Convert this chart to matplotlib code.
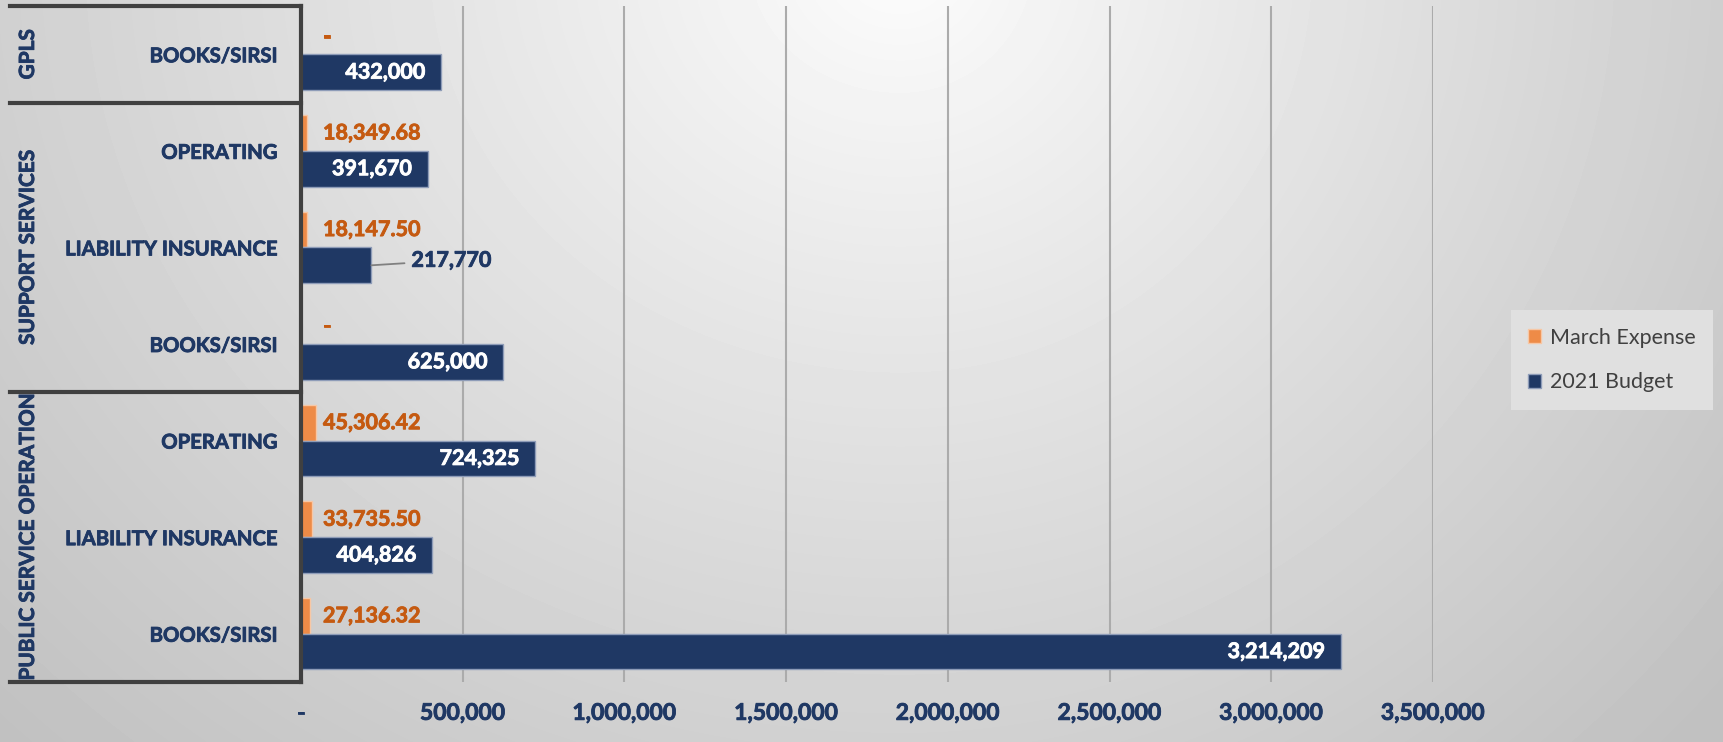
import numpy as np
import matplotlib.pyplot as plt
import matplotlib.patheffects as pe
from matplotlib.patches import Patch
from matplotlib.ticker import FuncFormatter

plt.rcParams['font.family'] = ['Lato', 'DejaVu Sans']

# data
groups = ['GPLS', 'SUPPORT SERVICES', 'PUBLIC SERVICE OPERATION']
group_sizes = [1, 3, 3]
items = ['BOOKS/SIRSI',
         'OPERATING', 'LIABILITY INSURANCE', 'BOOKS/SIRSI',
         'OPERATING', 'LIABILITY INSURANCE', 'BOOKS/SIRSI']
march_expense = [0, 18349.68, 18147.50, 0, 45306.42, 33735.50, 27136.32]
budget_2021 = [432000, 391670, 217770, 625000, 724325, 404826, 3214209]
x_ticks = [0, 500000, 1000000, 1500000, 2000000, 2500000, 3000000, 3500000]

navy = '#1F3864'
orange = '#EE8B47'
orange_txt = '#C55A11'
line_col = '#404040'


def thick(color):
    # a thin stroke makes Lato Bold look closer to the heavier original
    return [pe.withStroke(linewidth=0.6, foreground=color)]


W, H = 1723, 742
fig = plt.figure(figsize=(W / 100, H / 100), dpi=100)

# background: soft radial grey gradient, lightest near the top middle
bg = fig.add_axes([0, 0, 1, 1])
bg.axis('off')
xx, yy = np.meshgrid(np.arange(W), np.arange(H))
dx = np.where(xx > 900, (xx - 900) * 1.05, (900 - xx) * 0.92)
d = np.sqrt(dx ** 2 + ((yy + 40) * 1.05) ** 2)
val = 253 - 60 * np.clip(d / 1150, 0, 1) ** 0.9
bg.imshow(val, cmap='gray', vmin=0, vmax=255, aspect='auto',
          extent=[0, 1, 0, 1], origin='upper')
bg.set_xlim(0, 1)
bg.set_ylim(0, 1)

ax = fig.add_axes([301 / W, 1 - 682 / H, 1132 / W, 676 / H])
ax.set_facecolor('none')

y = np.arange(len(items))
h = 0.37
ax.barh(y - h / 2, march_expense, height=h, color=orange,
        edgecolor='#F7C7A5', linewidth=1, zorder=3)
ax.barh(y + h / 2, budget_2021, height=h, color=navy,
        edgecolor='#8E9CB8', linewidth=1, zorder=3)

ax.set_xlim(0, 3500000)
ax.set_ylim(len(items) - 0.5, -0.5)
ax.set_xticks(x_ticks)
ax.xaxis.set_major_formatter(
    FuncFormatter(lambda v, p: '-' if v == 0 else f'{v:,.0f}'))
ax.grid(axis='x', color='#ABABAB', lw=1.5, zorder=1)
ax.tick_params(axis='x', length=0, pad=15, labelsize=16.5, labelcolor=navy)
for lbl in ax.get_xticklabels():
    lbl.set_fontweight('bold')
    lbl.set_path_effects(thick(navy))

ax.set_yticks(y, items)
ax.tick_params(axis='y', length=0, pad=17, labelsize=14.6, labelcolor=navy)
for lbl in ax.get_yticklabels():
    lbl.set_fontweight('bold')
    lbl.set_path_effects(thick(navy))

for s in ax.spines.values():
    s.set_visible(False)

# data labels
for yi, v in zip(y, march_expense):
    txt = '-' if v == 0 else f'{v:,.2f}'
    ax.annotate(txt, xy=(0, yi - h / 2), xytext=(22, 0),
                textcoords='offset pixels', ha='left', va='center',
                fontsize=15.5, fontweight='bold', color=orange_txt, zorder=5,
                path_effects=thick(orange_txt))

for yi, v in zip(y, budget_2021):
    if v > 300000:
        ax.annotate(f'{v:,.0f}', xy=(v, yi + h / 2), xytext=(-16, 0),
                    textcoords='offset pixels', ha='right', va='center',
                    fontsize=15.5, fontweight='bold', color='white', zorder=5,
                    path_effects=thick('white'))
    else:
        ax.annotate(f'{v:,.0f}', xy=(v, yi + h / 2), xytext=(40, 5),
                    textcoords='offset pixels', ha='left', va='center',
                    fontsize=15.5, fontweight='bold', color=navy, zorder=5,
                    path_effects=thick(navy),
                    arrowprops=dict(arrowstyle='-', color='#808080', lw=1.3,
                                    shrinkA=3, shrinkB=0))

# category box with group labels
trans = ax.get_yaxis_transform()
x_left = (10 - 301) / 1132
bounds = np.concatenate([[0], np.cumsum(group_sizes)]) - 0.5
for b in bounds:
    ax.plot([x_left, 0], [b, b], transform=trans, color=line_col, lw=3,
            clip_on=False, solid_capstyle='projecting', zorder=6)
ax.plot([0, 0], [bounds[0], bounds[-1]], transform=trans, color=line_col,
        lw=3, clip_on=False, solid_capstyle='projecting', zorder=6)
for g, lo, hi in zip(groups, bounds[:-1], bounds[1:]):
    ax.text((28 - 301) / 1132, (lo + hi) / 2, g, transform=trans,
            rotation=90, ha='center', va='center', fontsize=15,
            fontweight='bold', color=navy, path_effects=thick(navy))

handles = [Patch(facecolor=orange, edgecolor='#F7C7A5'),
           Patch(facecolor=navy, edgecolor='#8E9CB8')]
leg = fig.legend(handles, ['March Expense', '2021 Budget'], loc='center',
                 bbox_to_anchor=(1612 / W, 1 - 360 / H), fontsize=15.5,
                 labelcolor='#404040', handlelength=0.6, handleheight=0.6,
                 handletextpad=0.4, labelspacing=1.15, borderpad=0.8,
                 fancybox=False, framealpha=1, facecolor='#E0E0E0',
                 edgecolor='none')

fig.savefig('out.png', dpi=100)
